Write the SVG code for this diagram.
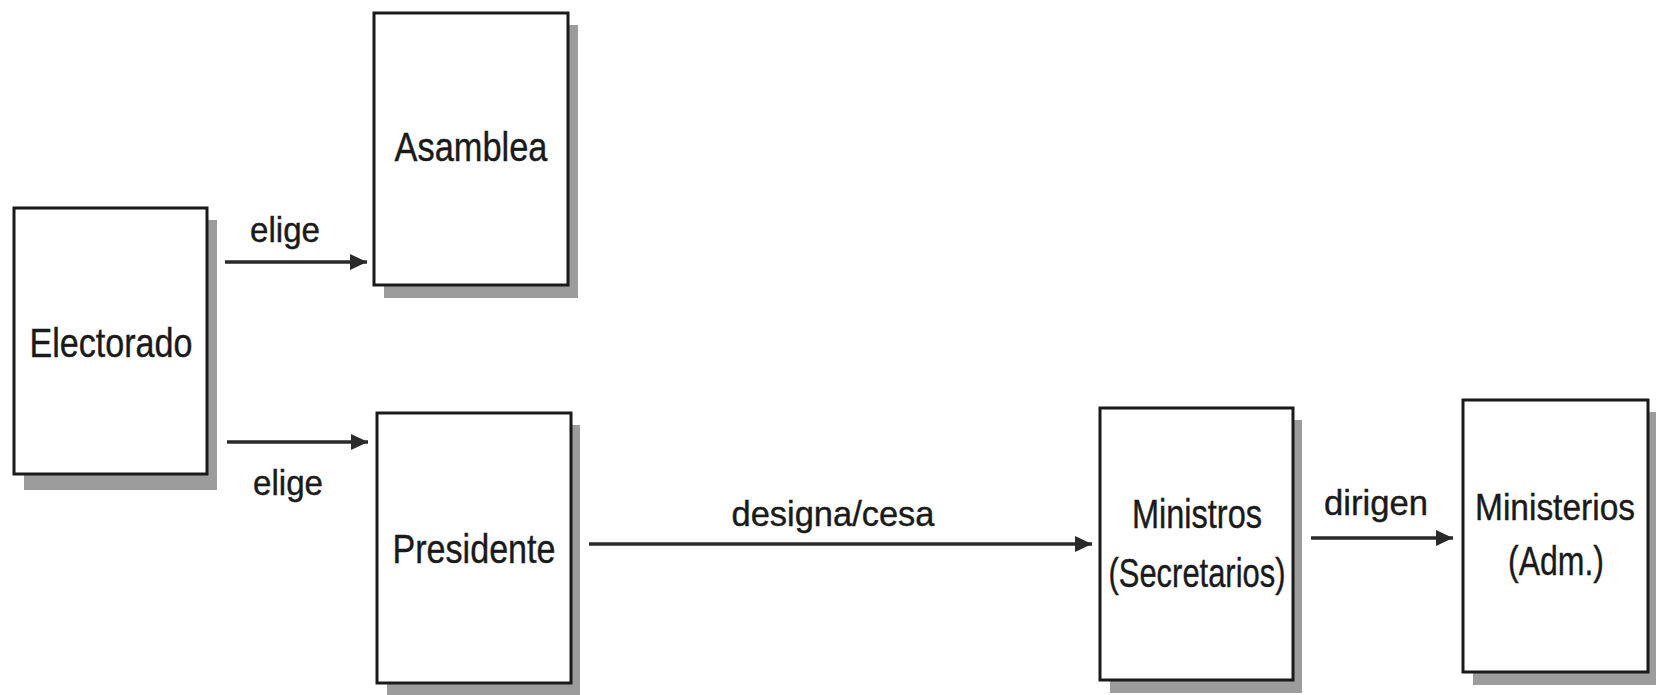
<svg xmlns="http://www.w3.org/2000/svg" width="1656" height="695" viewBox="0 0 1656 695">
<style>
.box{fill:#fff;stroke:#1a1a1a;stroke-width:3}
.shadow{fill:#9c9c9c}
.t{font-family:"Liberation Sans",Arial,sans-serif;fill:#1a1a1a;text-anchor:middle;stroke:#1a1a1a;stroke-width:0.4}
.bt{font-size:41px}
.lt{font-size:35px}
.conn{stroke:#2a2a2a;stroke-width:3.5;fill:none}
</style>
<defs>
<marker id="ah" markerUnits="userSpaceOnUse" markerWidth="18" markerHeight="16" refX="17" refY="8" orient="auto">
<path d="M0,0 L17,8 L0,16 Z" fill="#2a2a2a"/>
</marker>
</defs>
<rect width="1656" height="695" fill="#fff"/>

<g id="electorado">
<path class="shadow" d="M207,220 H217 V490 H24 V474 H207 Z"/>
<rect class="box" x="14" y="208" width="193" height="266"/>
<text class="t bt" x="111" y="357" textLength="163" lengthAdjust="spacingAndGlyphs">Electorado</text>
</g>

<g id="asamblea">
<path class="shadow" d="M568,25 H578 V298 H384 V285 H568 Z"/>
<rect class="box" x="374" y="13" width="194" height="272"/>
<text class="t bt" x="471" y="161" textLength="153" lengthAdjust="spacingAndGlyphs">Asamblea</text>
</g>

<g id="presidente">
<path class="shadow" d="M571,425 H580 V695 H387 V683 H571 Z"/>
<rect class="box" x="377" y="413" width="194" height="270"/>
<text class="t bt" x="474" y="563" textLength="163" lengthAdjust="spacingAndGlyphs">Presidente</text>
</g>

<g id="ministros">
<path class="shadow" d="M1293,420 H1302 V693 H1110 V680 H1293 Z"/>
<rect class="box" x="1100" y="408" width="193" height="272"/>
<text class="t bt" x="1197" y="528" textLength="130" lengthAdjust="spacingAndGlyphs">Ministros</text>
<text class="t bt" x="1197" y="587" textLength="177" lengthAdjust="spacingAndGlyphs">(Secretarios)</text>
</g>

<g id="ministerios">
<path class="shadow" d="M1648,412 H1656 V685 H1473 V672 H1648 Z"/>
<rect class="box" x="1463" y="400" width="185" height="272"/>
<text class="t" x="1555" y="520" font-size="37" textLength="160" lengthAdjust="spacingAndGlyphs">Ministerios</text>
<text class="t bt" x="1556" y="575" textLength="96" lengthAdjust="spacingAndGlyphs">(Adm.)</text>
</g>

<g id="connectors">
<line class="conn" x1="225" y1="262" x2="367" y2="262" marker-end="url(#ah)"/>
<text class="t lt" x="285" y="242" textLength="70" lengthAdjust="spacingAndGlyphs">elige</text>
<line class="conn" x1="227" y1="442" x2="368" y2="442" marker-end="url(#ah)"/>
<text class="t lt" x="288" y="495" textLength="70" lengthAdjust="spacingAndGlyphs">elige</text>
<line class="conn" x1="589" y1="544" x2="1092" y2="544" marker-end="url(#ah)"/>
<text class="t lt" x="833" y="526" textLength="203" lengthAdjust="spacingAndGlyphs">designa/cesa</text>
<line class="conn" x1="1311" y1="538" x2="1453" y2="538" marker-end="url(#ah)"/>
<text class="t lt" x="1376" y="515" textLength="104" lengthAdjust="spacingAndGlyphs">dirigen</text>
</g>
</svg>
